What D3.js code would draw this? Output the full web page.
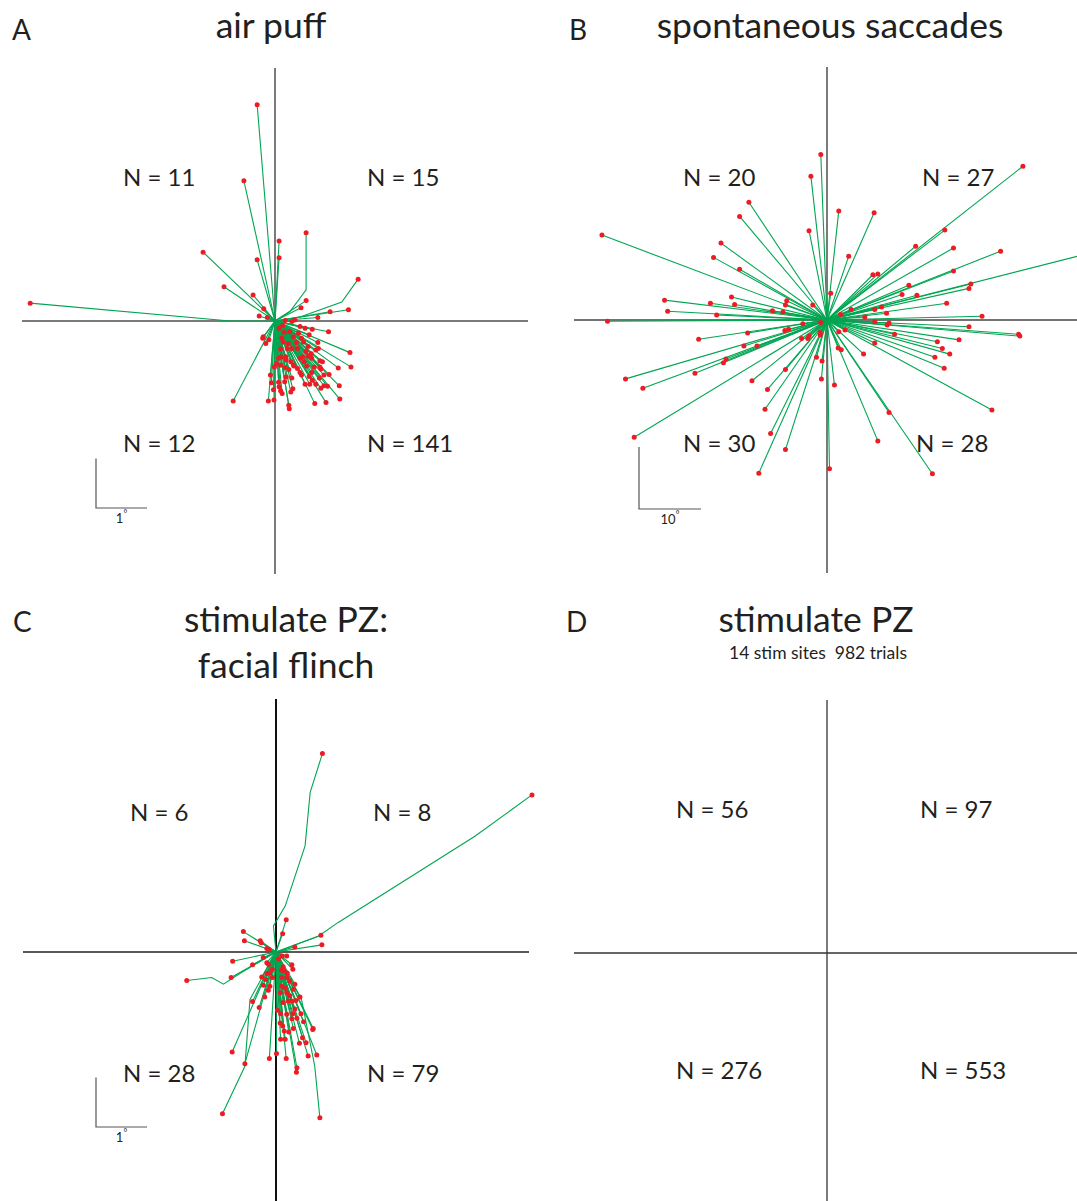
<!DOCTYPE html>
<html lang="en">
<head>
<meta charset="UTF-8" />
<title>flinch vectors</title>
<style>
  body { margin: 0; background: #fff; }
  text { font-family: Lato, 'Noto Sans', sans-serif; fill: #231f20; }
</style>
</head>
<body>
<svg id="svg" width="1077" height="1201"></svg>
<script src="https://cdn.jsdelivr.net/npm/d3@7/dist/d3.min.js"></script>
<script>
// end points in degrees (x to the right, y up); every movement starts at fixation (0,0)
const airPuffEnds = [
  [0.61,0.40],[0.51,0.26],[-0.22,0.24],[-0.31,0.10],[-0.15,0.07],[1.08,0.18],[1.44,0.22],[0.84,0.07],
  [1.05,-0.21],[1.47,-0.62],[1.49,-0.90],[1.24,-0.92],[1.26,-1.27],[1.27,-1.53],[1.00,-1.60],[0.78,-1.62],
  [0.27,-1.65],[0.28,-1.72],[-0.13,-1.57],[-0.02,-1.55],[0.14,-1.42],[-0.03,-1.35],[-0.07,-1.21],[-0.09,-1.06],
  [0.07,-1.20],[0.19,-1.19],[0.22,-1.10],[0.08,-1.29],[0.35,-1.33],[0.31,-1.39],[0.33,-1.12],[0.59,-1.24],
  [0.68,-1.24],[0.73,-1.16],[0.80,-1.24],[0.90,-1.32],[0.96,-1.27],[1.03,-1.28],[1.06,-1.05],[0.90,-0.94],
  [0.88,-0.90],[0.88,-0.78],[0.93,-0.80],[0.72,-1.01],[0.67,-1.09],[0.49,-1.01],[0.44,-0.93],[0.36,-0.86],
  [0.27,-0.95],[0.20,-0.91],[0.11,-0.87],[0.03,-0.84],[-0.01,-0.90],[0.12,-0.70],[0.07,-0.73],[0.21,-0.70],
  [0.22,-0.76],[0.31,-0.80],[0.37,-0.88],[0.49,-0.73],[0.54,-0.70],[0.61,-0.60],[0.71,-0.64],[0.80,-0.57],
  [0.84,-0.42],[0.85,-0.54],[0.65,-0.50],[0.56,-0.41],[0.44,-0.54],[0.33,-0.54],[0.24,-0.54],[0.11,-0.55],
  [-0.18,-0.44],[-0.23,-0.31],[-0.24,-0.34],[-0.12,-0.37],[0.13,-0.34],[0.18,-0.22],[0.08,-0.14],[0.15,-0.09],
  [0.20,0.01],[0.33,-0.01],[0.39,0.02],[0.49,-0.11],[0.59,-0.14],[0.73,-0.16],[0.67,-0.27],[0.52,-0.34],
  [0.42,-0.42],[0.36,-0.31],[0.29,-0.21],[0.46,-0.24],[0.16,-0.41],[0.26,-0.44],[0.65,-0.69],[0.72,-0.73],
  [0.57,-0.80],[0.62,-0.88],[0.77,-0.90],[0.87,-1.12],[0.96,-1.06],[0.52,-1.06],[0.11,-1.37],
  [0.08,1.57],[0.08,1.24],[-0.35,1.20],[-1.41,1.35],[-1.00,0.67],[-0.43,0.51],[-0.35,4.24],[-0.61,2.75],
  [-0.82,-1.57]
]
// the few air-puff paths that bend on the way out
const airPuffBent = [
  [[0.29,0.18],[0.61,0.61],[0.61,1.73]],
  [[0.49,0.08],[1.31,0.37],[1.63,0.82]],
  [[-0.88,0.0],[-4.80,0.35]]
]

const saccadeEnds = [
  [-1.0,26.7],[-2.6,23.2],[-12.6,19.0],[-14.1,16.7],[-2.9,14.4],[-36.3,13.7],[-17.1,12.4],[-18.3,10.1],
  [-14.1,8.2],[-26.2,3.2],[-18.8,2.7],[-15.4,3.7],[-14.9,2.5],[-6.5,3.1],[-6.7,2.4],[-2.3,2.4],
  [-8.8,1.5],[-7.1,1.3],[-25.7,1.4],[-17.8,0.8],[-35.4,-0.2],[-3.9,-0.6],[-1.0,-0.4],[-12.8,-2.1],
  [-6.8,-1.7],[-6.2,-1.5],[-20.7,-3.1],[-4.1,-3.0],[-3.1,-3.0],[-2.9,-2.6],[-1.1,-2.0],[-1.1,-2.4],
  [-13.4,-4.2],[-11.3,-4.2],[-16.3,-6.3],[-16.7,-6.9],[-1.7,-6.0],[-0.8,-6.6],[-6.7,-8.0],[-21.3,-8.6],
  [-32.5,-9.5],[-12.1,-9.8],[-0.9,-9.5],[-29.7,-11.0],[-9.6,-11.2],[-10.0,-14.4],[-31.1,-18.9],[-9.1,-18.3],
  [-6.7,-20.9],[-11.0,-24.7],[0.4,-24.0],
  [31.6,24.8],[1.9,17.6],[7.6,17.3],[19.0,14.5],[14.3,11.9],[20.4,11.6],[28.0,11.1],[3.5,10.3],
  [43.2,11.0],[20.4,7.9],[7.4,7.3],[8.2,7.4],[23.2,5.8],[22.9,5.1],[13.2,5.6],[12.1,4.1],
  [14.5,4.0],[0.6,4.3],[19.3,2.7],[8.8,2.1],[7.7,1.7],[3.9,1.7],[9.6,1.1],[2.2,0.9],
  [25.0,0.6],[6.1,0.5],[7.7,-0.3],[10.0,-0.5],[9.7,-0.8],[22.9,-1.1],[30.9,-2.3],[31.1,-2.6],
  [2.9,-1.6],[1.9,-1.9],[10.9,-2.3],[7.7,-3.7],[21.3,-3.2],[17.8,-3.5],[18.6,-4.6],[19.8,-5.5],
  [17.4,-6.0],[5.9,-5.5],[1.8,-4.5],[2.3,-4.8],[18.9,-7.8],[1.2,-10.5],[26.6,-14.5],[10.0,-14.9],
  [8.2,-19.5],[17.0,-24.8]
]

const flinchEnds = [
  [-0.64,0.40],[-0.62,0.22],[-0.31,0.22],[-0.29,0.18],[-0.18,0.07],[-0.14,0.05],
  [0.13,0.36],[0.88,0.33],[0.90,0.14],[0.37,0.10],[0.20,0.63],
  [-0.85,-0.18],[-0.88,-0.50],[-0.46,-0.25],[0.21,-0.08],[0.12,-0.08],[0.05,-0.13],
  [-0.25,-0.11],[-0.18,-0.21],[-0.15,-0.24],[0.31,-0.25],[0.33,-0.34],[0.14,-0.29],[0.11,-0.36],
  [0.16,-0.37],[0.22,-0.41],[-0.07,-0.34],[-0.12,-0.41],[-0.18,-0.42],[-0.28,-0.49],[-0.20,-0.54],[-0.07,-0.50],
  [0.11,-0.50],[0.21,-0.50],[0.27,-0.57],[0.37,-0.63],[0.34,-0.73],[-0.25,-0.65],[-0.12,-0.67],[-0.15,-0.75],
  [0.11,-0.67],[0.18,-0.71],[0.08,-0.80],[0.21,-0.80],[0.27,-0.86],[0.24,-0.96],[0.47,-0.88],[0.39,-0.95],
  [0.31,-0.96],[0.14,-0.99],[-0.22,-0.88],[-0.46,-0.97],[-0.33,-1.09],[0.03,-1.14],[0.09,-1.21],[0.21,-1.22],
  [0.33,-1.21],[0.37,-1.12],[0.49,-1.21],[0.31,-1.31],[0.41,-1.30],[0.54,-1.37],[0.08,-1.39],[0.13,-1.45],
  [0.72,-1.52],[0.16,-1.55],[0.25,-1.57],[0.34,-1.50],[0.52,-1.68],[0.46,-1.79],[0.59,-1.78],[0.09,-1.71],
  [0.18,-1.71],[-0.86,-1.96],[0.01,-1.99],[-0.13,-2.09],[0.20,-2.09],[0.63,-2.04],[0.80,-2.02],[-0.61,-2.19],
  [0.40,-2.36],[0.41,-2.27],[0.73,-1.50]
]
const flinchBent = [
  [[-0.05,0.51],[0.18,0.90],[0.57,2.08],[0.67,3.13],[0.91,3.89]],
  [[0.83,0.31],[1.22,0.58],[3.90,2.27],[5.02,3.08]],
  [[-0.51,-0.93],[-0.61,-2.24],[-1.05,-3.17]],
  [[0.50,-0.93],[0.76,-2.24],[0.86,-3.25]],
  [[-0.74,-0.44],[-1.03,-0.63],[-1.26,-0.50],[-1.75,-0.56]]
]

// trials per quadrant: upper left, upper right, lower left, lower right
const countsA = [11, 15, 12, 141]
const countsB = [20, 27, 30, 28]
const countsC = [6, 8, 28, 79]
const countsD = [56, 97, 276, 553]

const svg = d3.select('#svg')
const green = '#00a651'
const red = '#ed1c24'

const panels = [
  { letter: 'A', letterPos: [12, 40], title: ['air puff'], titleX: 271, titleY: [38],
    ox: 275, oy: 321, k: 51, ends: airPuffEnds, bent: airPuffBent, counts: countsA,
    labelPos: [[123, 186], [367, 186], [123, 452], [367, 452]],
    bar: { deg: 1, x: 96, y: 508, text: '1' }, hColor: '#7a7a7a' },
  { letter: 'B', letterPos: [569, 40], title: ['spontaneous saccades'], titleX: 830, titleY: [38],
    ox: 827, oy: 320, k: 6.2, ends: saccadeEnds, bent: [], counts: countsB,
    labelPos: [[683, 186], [922, 186], [683, 452], [916, 452]],
    bar: { deg: 10, x: 639, y: 509, text: '10' }, hColor: '#444' },
  { letter: 'C', letterPos: [13, 632], title: ['stimulate PZ:', 'facial flinch'], titleX: 286, titleY: [632, 678],
    ox: 276, oy: 952, k: 51, ends: flinchEnds, bent: flinchBent, counts: countsC,
    labelPos: [[130, 821], [373, 821], [123, 1082], [367, 1082]],
    bar: { deg: 1, x: 96, y: 1127, text: '1' }, hColor: '#222' },
  { letter: 'D', letterPos: [566, 632], title: ['stimulate PZ'], titleX: 816, titleY: [632],
    ox: 827, oy: 953, k: 51, ends: [], bent: [], counts: countsD,
    labelPos: [[676, 818], [920, 818], [676, 1079], [920, 1079]],
    bar: null, hColor: '#333' }
]

const half = 253

panels.forEach((p) => {
  const lim = half / p.k
  const x = d3.scaleLinear().domain([-lim, lim]).range([p.ox - half, p.ox + half])
  const y = d3.scaleLinear().domain([-lim, lim]).range([p.oy + half, p.oy - half])

  const g = svg.append('g').attr('id', 'panel' + p.letter)

  // axes through fixation
  g.append('line')
    .attr('x1', x(-lim)).attr('x2', x(lim))
    .attr('y1', y(0)).attr('y2', y(0))
    .attr('stroke', p.hColor).attr('stroke-width', p.letter === 'A' ? 2 : 1.5)
  g.append('line')
    .attr('x1', x(0)).attr('x2', x(0))
    .attr('y1', y(lim)).attr('y2', y(-lim))
    .attr('stroke', p.letter === 'C' ? '#111' : '#333').attr('stroke-width', p.letter === 'C' ? 2 : 1.3)

  const line = d3.line().x(d => x(d[0])).y(d => y(d[1]))
  const paths = p.ends.map(e => [[0, 0], e]).concat(p.bent.map(b => [[0, 0]].concat(b)))

  const traces = g.append('g')
  traces.selectAll('path')
    .data(paths)
    .enter()
    .append('path')
    .attr('d', line)
    .attr('fill', 'none')
    .attr('stroke', green)
    .attr('stroke-width', 1.1)
  traces.selectAll('circle')
    .data(paths.map(d => d[d.length - 1]))
    .enter()
    .append('circle')
    .attr('cx', d => x(d[0]))
    .attr('cy', d => y(d[1]))
    .attr('r', 2.5)
    .attr('fill', red)

  // panel letter and title
  g.append('text')
    .attr('x', p.letterPos[0]).attr('y', p.letterPos[1])
    .attr('font-size', 28)
    .text(p.letter)
  p.title.forEach((t, i) => {
    g.append('text')
      .attr('x', p.titleX).attr('y', p.titleY[i])
      .attr('text-anchor', 'middle')
      .attr('font-size', 35.5)
      .text(t)
  })

  // quadrant counts
  g.selectAll('text.count')
    .data(p.counts)
    .enter()
    .append('text')
    .attr('class', 'count')
    .attr('x', (d, i) => p.labelPos[i][0])
    .attr('y', (d, i) => p.labelPos[i][1])
    .attr('font-size', 24)
    .text(d => 'N = ' + d)

  // scale bar
  if (p.bar) {
    const len = x(p.bar.deg) - x(0)
    g.append('path')
      .attr('d', `M${p.bar.x},${p.bar.y - len * (p.letter === 'B' ? 1 : 0.97)}V${p.bar.y}H${p.bar.x + len}`)
      .attr('fill', 'none')
      .attr('stroke', '#555')
      .attr('stroke-width', 1.2)
    const t = g.append('text')
      .attr('x', p.bar.x + len / 2)
      .attr('y', p.bar.y + 15)
      .attr('text-anchor', 'middle')
      .attr('font-size', 13)
    t.append('tspan').text(p.bar.text)
    t.append('tspan').attr('dy', -6).attr('font-size', 9).text('°')
  }
})

// sub-title for panel D
svg.append('text')
  .attr('x', 818).attr('y', 659)
  .attr('text-anchor', 'middle')
  .attr('font-size', 17.5)
  .style('white-space', 'pre')
  .text('14 stim sites  982 trials')
</script>
</body>
</html>
